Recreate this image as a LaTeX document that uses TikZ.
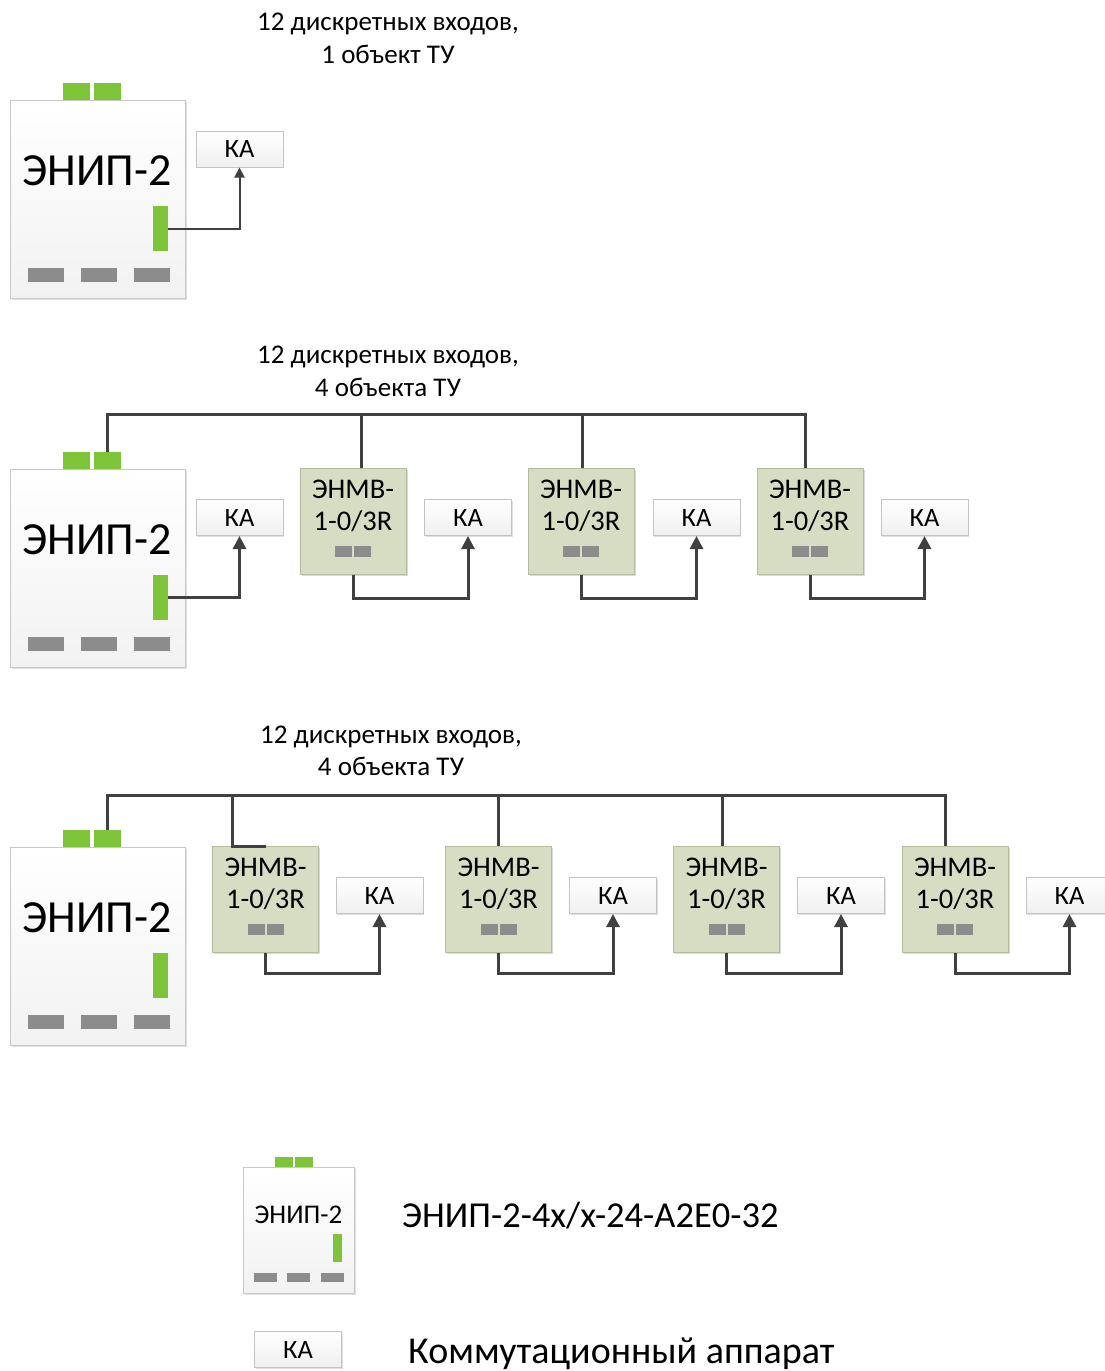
\documentclass[tikz,border=0pt]{standalone}
\usepackage{fontspec}
\setmainfont{Carlito}
\usetikzlibrary{arrows.meta,shadows}
\definecolor{grn}{RGB}{125,196,56}
\definecolor{gsq}{RGB}{140,140,140}
\definecolor{enmvfill}{RGB}{214,221,194}
\definecolor{enmvline}{RGB}{180,188,160}
\definecolor{enipfill}{RGB}{242,242,242}
\definecolor{enipline}{RGB}{200,200,200}
\definecolor{kaline}{RGB}{195,195,195}
\definecolor{wire}{RGB}{64,64,64}
\tikzset{
  enipbox/.style={draw=enipline, line width=1pt, top color=white, bottom color=enipfill, inner sep=0pt,
    drop shadow={shadow xshift=1.5pt, shadow yshift=-1.5pt, fill=black, opacity=0.12}},
  grnsq/.style={fill=grn, draw=none, inner sep=0pt},
  greysq/.style={fill=gsq, draw=none, inner sep=0pt},
  enmvbox/.style={draw=enmvline, line width=1pt, fill=enmvfill, inner sep=0pt,
    minimum width=106pt, minimum height=106pt,
    drop shadow={shadow xshift=1.5pt, shadow yshift=-1.5pt, fill=black, opacity=0.15}},
  kabox/.style={draw=kaline, line width=1pt, top color=white, bottom color=black!6, inner sep=0pt,
    minimum width=87pt, minimum height=36pt, font=\fontsize{26.5}{30}\selectfont,
    drop shadow={shadow xshift=1.2pt, shadow yshift=-1.2pt, fill=black, opacity=0.12}},
  hdr/.style={anchor=base, inner sep=0pt, font=\fontsize{27}{31}\selectfont},
  bigtxt/.style={anchor=base, inner sep=0pt, font=\fontsize{46}{50}\selectfont},
  mtxt/.style={anchor=base, inner sep=0pt, font=\fontsize{28.5}{32}\selectfont},
  smtxt/.style={anchor=base, inner sep=0pt, font=\fontsize{27}{30}\selectfont},
  legtxt/.style={anchor=base west, inner sep=0pt},
  bus/.style={draw=wire, line width=3pt},
  conn/.style={draw=wire, line width=3pt, -{Triangle[length=13pt,width=13pt]}},
}
\newcommand\enipdev[2]{%
  \node[enipbox, minimum width=175pt, minimum height=198pt] (#1) at (97.5,{199+#2}) {};
  \node[grnsq, minimum width=27pt, minimum height=17pt] (#1tl) at (76.5,{91.5+#2}) {};
  \node[grnsq, minimum width=27pt, minimum height=17pt] (#1tr) at (107.5,{91.5+#2}) {};
  \node[grnsq, minimum width=15pt, minimum height=45pt] (#1g) at (160.5,{228.5+#2}) {};
  \node[greysq, minimum width=36pt, minimum height=14pt] (#1a) at (46,{275+#2}) {};
  \node[greysq, minimum width=36pt, minimum height=14pt] (#1b) at (99,{275+#2}) {};
  \node[greysq, minimum width=36pt, minimum height=14pt] (#1c) at (151.5,{275+#2}) {};
  \node[bigtxt] (#1t) at (97,{185+#2}) {ЭНИП-2};
}
\newcommand\enmvdev[3]{%
  \node[enmvbox] (#1) at (#2,{#3+52.5}) {};
  \node[mtxt] (#1ta) at (#2,{#3+29}) {ЭНМВ-};
  \node[mtxt] (#1tb) at (#2,{#3+61}) {1-0/3R};
  \node[greysq, minimum width=17pt, minimum height=11pt] (#1sa) at ({#2-9.5},{#3+82}) {};
  \node[greysq, minimum width=17pt, minimum height=11pt] (#1sb) at ({#2+9.5},{#3+82}) {};
}
\begin{document}
\begin{tikzpicture}[x=1pt,y=-1pt]
\useasboundingbox[fill=white] (0,0) rectangle (1105,1371);

% ---------- row 1 ----------
\node[hdr] (h1a) at (388,30) {12 дискретных входов,};
\node[hdr] (h1b) at (388,63) {1 объект ТУ};
\enipdev{e1}{0}
\node[kabox] (k10) at (239.5,149) {КА};
\draw[conn, line width=2pt, -{Triangle[length=10pt,width=10pt]}] (e1g.east) -| (k10.south);

% ---------- row 2 ----------
\node[hdr] (h2a) at (388,363) {12 дискретных входов,};
\node[hdr] (h2b) at (388,396) {4 объекта ТУ};
\enipdev{e2}{369}
\node[kabox] (k20) at (239.5,517.5) {КА};
\enmvdev{m21}{353}{469}
\enmvdev{m22}{581}{469}
\enmvdev{m23}{810}{469}
\node[kabox] (k21) at (468,517.5) {КА};
\node[kabox] (k22) at (696.5,517.5) {КА};
\node[kabox] (k23) at (924.5,517.5) {КА};
\draw[bus] (e2tr.north) -- ++(0,-37) coordinate (b2) -| ([xshift=-5pt]m23.north);
\draw[bus] ([xshift=8pt]m21.north) -- ([xshift=8pt]m21.north |- b2);
\draw[bus] ([xshift=1pt]m22.north) -- ([xshift=1pt]m22.north |- b2);
\draw[conn] (e2g.east) -| (k20.south);
\draw[conn] (m21.south) -- ++(0,23) -| (k21.south);
\draw[conn] (m22.south) -- ++(0,23) -| (k22.south);
\draw[conn] (m23.south) -- ++(0,23) -| (k23.south);

% ---------- row 3 ----------
\node[hdr] (h3a) at (391,743) {12 дискретных входов,};
\node[hdr] (h3b) at (391,775) {4 объекта ТУ};
\enipdev{e3}{747}
\enmvdev{m31}{265.5}{847}
\enmvdev{m32}{498.5}{847}
\enmvdev{m33}{726.5}{847}
\enmvdev{m34}{955}{847}
\node[kabox] (k31) at (379.5,895.5) {КА};
\node[kabox] (k32) at (613,895.5) {КА};
\node[kabox] (k33) at (841,895.5) {КА};
\node[kabox] (k34) at (1069.5,895.5) {КА};
\draw[bus] (e3tr.north) -- ++(0,-34) coordinate (b3) -| ([xshift=-10pt]m34.north);
\draw[bus] (m31.north) -- ++(-33,0) |- (b3);
\draw[bus] (m32.north) -- (m32.north |- b3);
\draw[bus] ([xshift=-4.5pt]m33.north) -- ([xshift=-4.5pt]m33.north |- b3);
\draw[conn] (m31.south) -- ++(0,20) -| (k31.south);
\draw[conn] (m32.south) -- ++(0,20) -| (k32.south);
\draw[conn] (m33.south) -- ++(0,20) -| (k33.south);
\draw[conn] (m34.south) -- ++(0,20) -| (k34.south);

% ---------- legend ----------
\node[enipbox, minimum width=111pt, minimum height=126pt] (le) at (298.5,1230) {};
\node[grnsq, minimum width=18pt, minimum height=10pt] (letl) at (284,1162) {};
\node[grnsq, minimum width=18pt, minimum height=10pt] (letr) at (304,1162) {};
\node[grnsq, minimum width=9pt, minimum height=28pt] (leg) at (337.5,1248) {};
\node[greysq, minimum width=23pt, minimum height=9pt] (lea) at (265.5,1277.5) {};
\node[greysq, minimum width=23pt, minimum height=9pt] (leb) at (298.5,1277.5) {};
\node[greysq, minimum width=23pt, minimum height=9pt] (lec) at (332,1277.5) {};
\node[smtxt] (let) at (298.5,1223) {ЭНИП-2};
\node[legtxt, font=\fontsize{36.5}{40}\selectfont] (lt1) at (402,1227) {ЭНИП-2-4x/x-24-A2E0-32};
\node[kabox] (lka) at (298,1349.5) {КА};
\node[legtxt, font=\fontsize{38}{42}\selectfont] (lt2) at (408,1363) {Коммутационный аппарат};
\end{tikzpicture}
\end{document}
